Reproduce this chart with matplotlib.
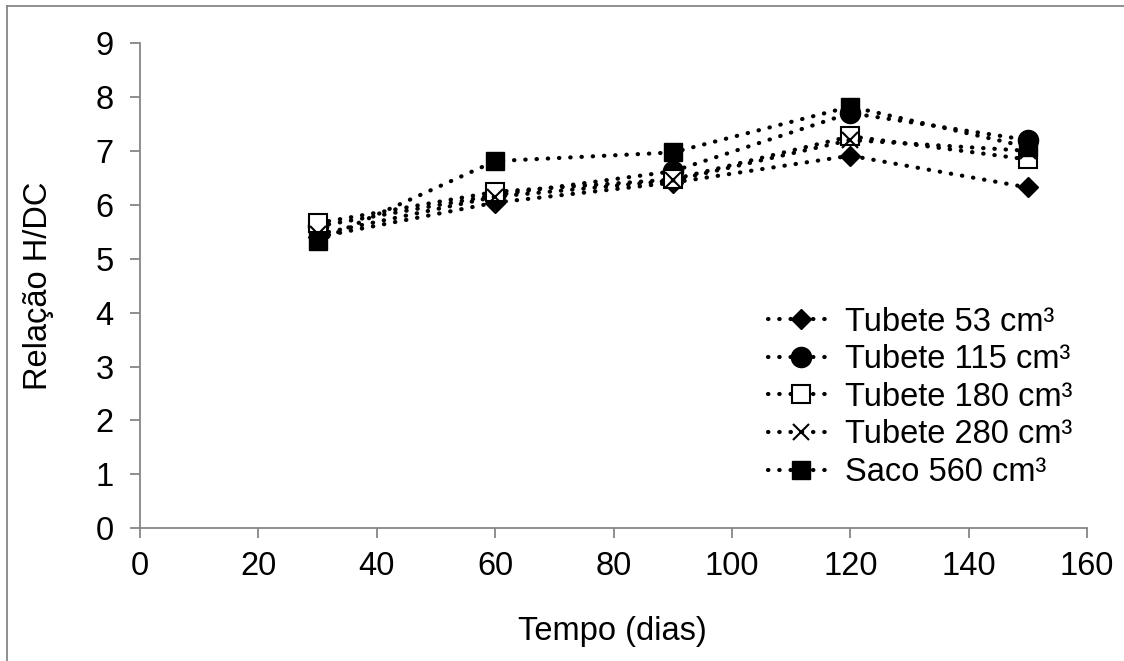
import matplotlib
matplotlib.use("Agg")
import matplotlib.pyplot as plt
from matplotlib.lines import Line2D

plt.rcParams['font.family'] = ['Liberation Sans', 'DejaVu Sans']

days = [30, 60, 90, 120, 150]
series_names = ["Tubete 53 cm³", "Tubete 115 cm³", "Tubete 180 cm³",
                "Tubete 280 cm³", "Saco 560 cm³"]
tubete53 = [5.40, 6.04, 6.41, 6.91, 6.32]
tubete115 = [5.60, 6.18, 6.62, 7.70, 7.20]
tubete180 = [5.66, 6.24, 6.47, 7.27, 6.84]
tubete280 = [5.45, 6.15, 6.45, 7.20, 7.00]
saco560 = [5.32, 6.81, 6.97, 7.82, 7.07]
x_ticks = [0, 20, 40, 60, 80, 100, 120, 140, 160]
y_ticks = [0, 1, 2, 3, 4, 5, 6, 7, 8, 9]

FS = 23.5

fig = plt.figure(figsize=(11.24, 6.61), dpi=100)
ax = fig.add_axes([0.1246, 0.2007, 0.8426, 0.7343])

styles = [
    dict(marker='D', ms=10, mfc='black', mec='black'),
    dict(marker='o', ms=14.5, mfc='black', mec='black'),
    dict(marker='s', ms=13, mfc='white', mec='black', mew=1.5),
    dict(marker='x', ms=12, mfc='none', mec='black', mew=1.5),
    dict(marker='s', ms=13.5, mfc='black', mec='black'),
]
data = [tubete53, tubete115, tubete180, tubete280, saco560]
handles = []
for vals, name, st in zip(data, series_names, styles):
    ln, = ax.plot(days, vals, color='black', lw=3.0,
                  linestyle=(0, (0.1, 2.6)), dash_capstyle='round',
                  label=name, **st)
    handles.append(ln)

ax.set_xlim(0, 160)
ax.set_ylim(0, 9)
ax.set_xticks(x_ticks)
ax.set_yticks(y_ticks)
for s in ['top', 'right']:
    ax.spines[s].set_visible(False)
for s in ['left', 'bottom']:
    ax.spines[s].set_color('#868686')
    ax.spines[s].set_linewidth(1.3)
ax.tick_params(axis='both', direction='out', length=7, width=1.3,
               color='#868686', labelsize=FS, labelcolor='black')
ax.tick_params(axis='y', pad=12)
ax.tick_params(axis='x', pad=9)

ax.set_ylabel("Relação H/DC", fontsize=FS, labelpad=30)
fig.text(0.545, 0.044, "Tempo (dias)", fontsize=FS, ha='center', va='center')

leg = ax.legend(handles=handles, loc='upper left',
                bbox_to_anchor=(0.646, 0.49), frameon=False, fontsize=FS,
                handlelength=2.0, handletextpad=0.34, labelspacing=0.2,
                borderpad=0)

# figure border (top and left)
fig.add_artist(Line2D([0.0062, 1.0], [0.991, 0.991], transform=fig.transFigure,
                      color='#868686', lw=1.3))
fig.add_artist(Line2D([0.0062, 0.0062], [0.0, 0.991], transform=fig.transFigure,
                      color='#868686', lw=1.3))

fig.savefig("out.png", dpi=100)
